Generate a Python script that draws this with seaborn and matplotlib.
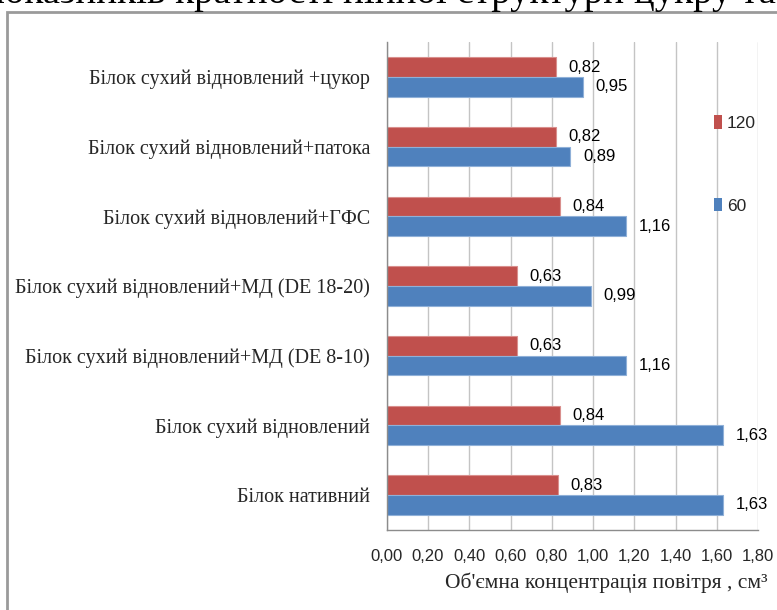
import matplotlib
matplotlib.use("Agg")
import matplotlib.pyplot as plt
from matplotlib.patches import Patch, Rectangle
import seaborn as sns
import pandas as pd

# Samples (top to bottom) and foam air volume values for two whipping times
samples = [
    "Білок сухий відновлений +цукор",
    "Білок сухий відновлений+патока",
    "Білок сухий відновлений+ГФС",
    "Білок сухий відновлений+МД (DE 18-20)",
    "Білок сухий відновлений+МД (DE 8-10)",
    "Білок сухий відновлений",
    "Білок нативний",
]
values_120 = [0.82, 0.82, 0.84, 0.63, 0.63, 0.84, 0.83]
values_60 = [0.95, 0.89, 1.16, 0.99, 1.16, 1.63, 1.63]
series_names = ["120", "60"]
x_ticks = [0.0, 0.2, 0.4, 0.6, 0.8, 1.0, 1.2, 1.4, 1.6, 1.8]
x_label = "Об'ємна концентрація повітря , см³"
heading = "показників кратності пінної структури цукру та"

colors = {"120": "#C0504D", "60": "#4F81BD"}
edges = {"120": "#d98f8d", "60": "#8fb0d8"}
serif = ["Liberation Serif", "DejaVu Serif"]
sans = ["Liberation Sans", "DejaVu Sans"]

df = pd.DataFrame({
    "sample": samples * 2,
    "value": values_120 + values_60,
    "time": [series_names[0]] * len(samples) + [series_names[1]] * len(samples),
})

sns.set_style("white")
plt.rcParams["font.family"] = sans

W, H = 777, 610
fig = plt.figure(figsize=(W / 100, H / 100), dpi=100)

# page frame around the chart and the clipped heading line above it
fig.patches.append(Rectangle((6.5 / W, -0.2), 1.2, 1 - 11.5 / H + 0.2,
                             transform=fig.transFigure, fill=False,
                             edgecolor="#9a9a9a", linewidth=2))
fig.text(776 / W, 1 - 2.5 / H, heading, ha="right", va="baseline",
         fontsize=28, family=serif, color="black")

x0, x1 = 386.7, 758.3
y_top, y_bot = 42, 530
ax = fig.add_axes([x0 / W, 1 - y_bot / H, (x1 - x0) / W, (y_bot - y_top) / H])

sns.barplot(data=df, x="value", y="sample", hue="time", hue_order=series_names,
            order=samples, palette=colors, orient="h", width=0.565,
            saturation=1, dodge=True, legend=False, ax=ax)

for cont, name in zip(ax.containers, series_names):
    for bar in cont:
        bar.set_edgecolor(edges[name])
        bar.set_linewidth(0.8)
    vals = [b.get_width() for b in cont]
    ax.bar_label(cont, labels=[f"{v:.2f}".replace(".", ",") for v in vals],
                 padding=9, fontsize=12, family=sans, color="black")

ax.set_xlim(0, 1.8)
ax.set_ylim(len(samples) - 0.5, -0.5)
ax.set_xticks(x_ticks)
ax.set_xticklabels([f"{t:.2f}".replace(".", ",") for t in x_ticks],
                   fontsize=12, family=sans)
ax.xaxis.grid(True, color="#c4c4c4", linewidth=1)
ax.set_axisbelow(True)

ax.set_yticks(range(len(samples)))
ax.set_yticklabels(samples, fontsize=14.5, family=serif)
ax.set_yticks([i - 0.5 for i in range(len(samples) + 1)], minor=True)
ax.tick_params(axis="y", which="major", length=0, pad=12)
ax.tick_params(axis="y", which="minor", length=5, color="#8c8c8c", width=1)
ax.tick_params(axis="x", length=5, color="#8c8c8c", width=1, pad=9)

for side in ("top", "right"):
    ax.spines[side].set_visible(False)
for side in ("left", "bottom"):
    ax.spines[side].set_color("#8c8c8c")
    ax.spines[side].set_linewidth(1)

ax.set_ylabel("")
ax.set_xlabel(x_label, fontsize=15.5, family=serif)
ax.xaxis.label.set_ha("right")
ax.xaxis.label.set_va("baseline")
ax.xaxis.set_label_coords((768 - x0) / (x1 - x0), -(588 - y_bot) / (y_bot - y_top))

handles = [Patch(facecolor=colors[s], edgecolor="none") for s in series_names]
ax.legend(handles, series_names, loc="center left",
          bbox_to_anchor=(713.7 / W, 1 - 164.5 / H), bbox_transform=fig.transFigure,
          frameon=False, borderpad=0, borderaxespad=0,
          handlelength=0.45, handleheight=0.8, handletextpad=0.3,
          labelspacing=3.85, prop={"family": sans, "size": 12.5})

fig.savefig("out.png", dpi=100)
